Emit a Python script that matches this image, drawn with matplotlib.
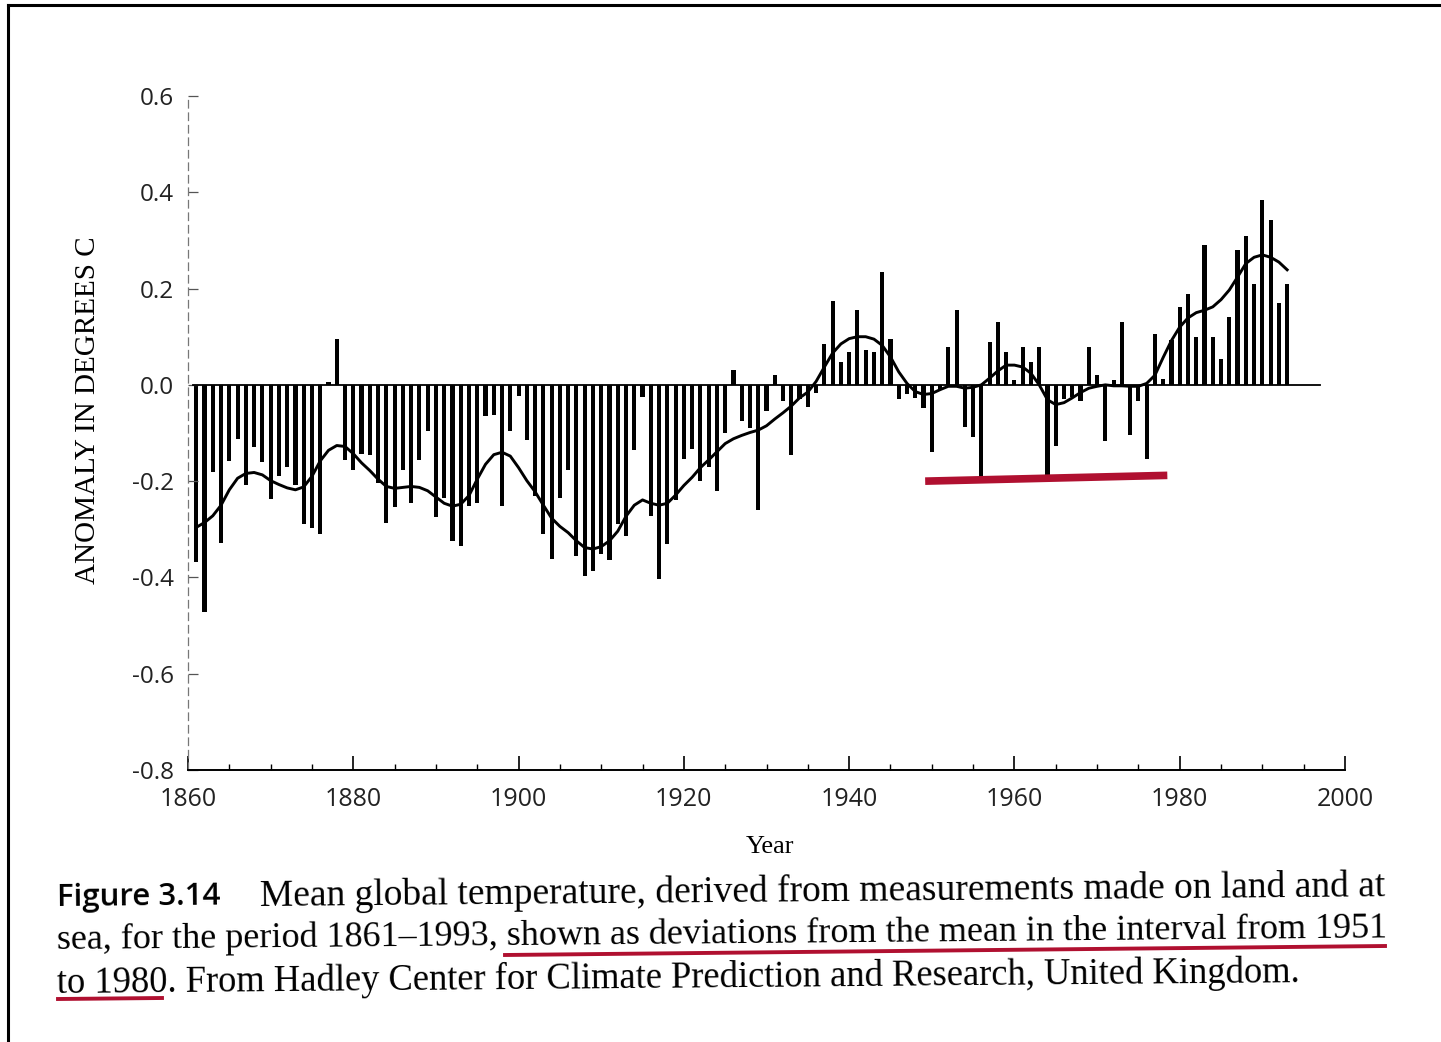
import numpy as np
import matplotlib
matplotlib.use("Agg")
import matplotlib.pyplot as plt
from matplotlib.lines import Line2D
from matplotlib.ticker import MultipleLocator

# annual anomalies (deg C, rel. 1951-1980)
years = list(range(1861, 1994))
anomaly = [
    -0.367, -0.471, -0.180, -0.329, -0.159, -0.112, -0.209, -0.129, -0.160, -0.238,   # 1861-1870
    -0.190, -0.170, -0.207, -0.289, -0.297, -0.310, 0.005, 0.095, -0.156, -0.177,     # 1871-1880
    -0.143, -0.146, -0.204, -0.286, -0.254, -0.177, -0.245, -0.156, -0.095, -0.274,   # 1881-1890
    -0.235, -0.324, -0.335, -0.252, -0.245, -0.065, -0.063, -0.252, -0.095, -0.024,   # 1891-1900
    -0.114, -0.231, -0.310, -0.362, -0.235, -0.177, -0.355, -0.396, -0.386, -0.352,   # 1901-1910
    -0.363, -0.290, -0.314, -0.136, -0.025, -0.273, -0.403, -0.331, -0.240, -0.155,   # 1911-1920
    -0.134, -0.200, -0.170, -0.220, -0.100, 0.031, -0.075, -0.090, -0.260, -0.054,    # 1921-1930
    0.021, -0.034, -0.146, -0.030, -0.047, -0.017, 0.085, 0.175, 0.047, 0.068,        # 1931-1940
    0.155, 0.072, 0.068, 0.235, 0.095, -0.030, -0.020, -0.027, -0.048, -0.140,        # 1941-1950
    -0.008, 0.078, 0.156, -0.088, -0.109, -0.197, 0.088, 0.130, 0.068, 0.010,         # 1951-1960
    0.078, 0.048, 0.078, -0.194, -0.126, -0.030, -0.025, -0.034, 0.078, 0.020,        # 1961-1970
    -0.116, 0.010, 0.130, -0.105, -0.034, -0.153, 0.105, 0.012, 0.094, 0.162,         # 1971-1980
    0.189, 0.100, 0.290, 0.100, 0.053, 0.140, 0.280, 0.310, 0.210, 0.384,             # 1981-1990
    0.343, 0.170, 0.210,                                                              # 1991-1993
]

# smoothed curve, also
smooth = [
    -0.296, -0.286, -0.272, -0.250, -0.218, -0.194, -0.184, -0.182, -0.187, -0.199,
    -0.207, -0.214, -0.218, -0.212, -0.190, -0.158, -0.136, -0.126, -0.128, -0.143,
    -0.162, -0.178, -0.196, -0.211, -0.215, -0.213, -0.211, -0.213, -0.220, -0.233,
    -0.246, -0.252, -0.248, -0.230, -0.196, -0.165, -0.145, -0.140, -0.148, -0.172,
    -0.199, -0.222, -0.250, -0.277, -0.294, -0.307, -0.324, -0.338, -0.341, -0.336,
    -0.324, -0.304, -0.273, -0.250, -0.239, -0.246, -0.250, -0.246, -0.229, -0.209,
    -0.192, -0.172, -0.156, -0.139, -0.122, -0.112, -0.105, -0.099, -0.094, -0.085,
    -0.071, -0.058, -0.044, -0.027, -0.015, 0.007, 0.037, 0.066, 0.085, 0.096,
    0.100, 0.100, 0.095, 0.082, 0.058, 0.027, 0.003, -0.014, -0.020, -0.018,
    -0.010, -0.003, -0.003, -0.007, -0.005, 0.000, 0.014, 0.029, 0.041, 0.041,
    0.037, 0.024, 0.000, -0.031, -0.041, -0.037, -0.027, -0.016, -0.007, -0.003,
    0.000, -0.002, -0.002, -0.003, -0.003, 0.003, 0.020, 0.057, 0.092, 0.120,
    0.139, 0.150, 0.155, 0.162, 0.177, 0.197, 0.224, 0.252, 0.265, 0.270,
    0.265, 0.255, 0.239,
]

y_ticks = [0.6, 0.4, 0.2, 0.0, -0.2, -0.4, -0.6, -0.8]
x_ticks = [1860, 1880, 1900, 1920, 1940, 1960, 1980, 2000]
ref_period = [1951, 1980]

RED = "#b01030"
W, H = 1441, 1042

fig = plt.figure(figsize=(W / 100, H / 100), dpi=100)
fig.patch.set_facecolor("white")

ax = fig.add_axes([188 / W, 1 - 770 / H, (1345 - 188) / W, (770 - 96) / H])
ax.set_xlim(1860, 2000)
ax.set_ylim(-0.8, 0.6)

ax.bar(years, anomaly, width=0.5, color="black", linewidth=0)
ax.plot([1860.6, 1997], [0, 0], color="black", lw=1.3)
ax.plot(years, smooth, color="black", lw=2.1)

# red highlight under the reference period
ax.plot([ref_period[0] - 1.8, ref_period[1] - 1.5], [-0.200, -0.188],
        color=RED, lw=5.5, solid_capstyle="butt")

for s in ["top", "right"]:
    ax.spines[s].set_visible(False)
ax.spines["left"].set_linestyle((0, (6, 4)))
ax.spines["left"].set_color("#777777")
ax.spines["left"].set_linewidth(0.9)
ax.spines["bottom"].set_linewidth(1.4)

ax.set_yticks(y_ticks)
ax.set_yticklabels(["%.1f" % v for v in y_ticks])
ax.set_xticks(x_ticks)
ax.xaxis.set_minor_locator(MultipleLocator(5))
ax.tick_params(axis="y", direction="in", length=7, width=0.9, color="#555555",
               pad=10, labelsize=17.5)
ax.tick_params(axis="x", which="major", direction="in", length=10, width=1.2,
               pad=12, labelsize=18)
ax.tick_params(axis="x", which="minor", direction="in", length=4, width=1.0)
for lab in ax.get_xticklabels() + ax.get_yticklabels():
    lab.set_family("Open Sans")
    lab.set_color("#222222")

fig.text(88 / W, 1 - 410 / H, "ANOMALY IN DEGREES C", rotation=90,
         ha="center", va="center", family="Liberation Serif", fontsize=21)
fig.text(770 / W, 1 - 847 / H, "Year", ha="center", va="center",
         family="Liberation Serif", fontsize=19)

# caption, slightly tilted like the scan
tilt = 0.5
fig.text(57 / W, 1 - 898 / H, "Figure 3.14", ha="left", va="center",
         family="Open Sans", weight="semibold", fontsize=22.5,
         rotation=tilt, rotation_mode="anchor")
fig.text(260 / W, 1 - 896 / H,
         "Mean global temperature, derived from measurements made on land and at",
         ha="left", va="center", family="Liberation Serif", fontsize=27,
         rotation=tilt, rotation_mode="anchor")
fig.text(57 / W, 1 - 940 / H,
         "sea, for the period 1861\u20131993, shown as deviations from the mean in the interval from 1951",
         ha="left", va="center", family="Liberation Serif", fontsize=26,
         rotation=tilt, rotation_mode="anchor")
fig.text(57 / W, 1 - 983 / H,
         "to 1980. From Hadley Center for Climate Prediction and Research, United Kingdom.",
         ha="left", va="center", family="Liberation Serif", fontsize=26.3,
         rotation=tilt, rotation_mode="anchor")

# red underlines
fig.add_artist(Line2D([505 / W, 1385 / W], [1 - 955 / H, 1 - 946 / H],
                      color=RED, lw=2.8))
fig.add_artist(Line2D([58 / W, 162 / W], [1 - 999 / H, 1 - 998 / H],
                      color=RED, lw=2.8))

# page frame (left and top edges)
fig.add_artist(Line2D([8 / W, 8 / W], [0, 1 - 5 / H], color="black", lw=2.2))
fig.add_artist(Line2D([8 / W, 1], [1 - 5 / H, 1 - 5 / H], color="black", lw=2.2))

fig.savefig("out.png", dpi=100)
